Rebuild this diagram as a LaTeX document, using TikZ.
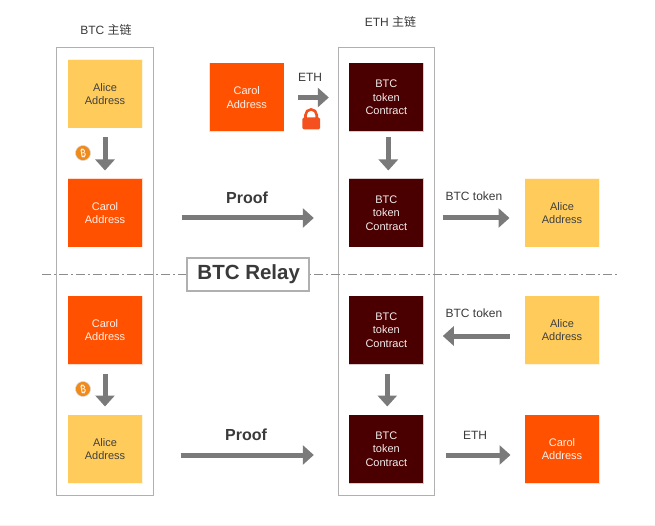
\documentclass[tikz,border=0pt]{standalone}
\usepackage{fontspec}
\setmainfont{Liberation Sans}
\newfontfamily\cjkf{Noto Sans CJK SC}
\newfontfamily\coinf{Noto Sans}
\usetikzlibrary{arrows.meta}
\definecolor{alicec}{HTML}{FFCC5C}
\definecolor{carolc}{HTML}{FF5100}
\definecolor{contractc}{HTML}{4A0000}
\definecolor{arrowc}{HTML}{7A7A7A}
\definecolor{framec}{HTML}{B0B0B0}
\definecolor{inkc}{HTML}{3A3A3A}
\definecolor{coinc}{HTML}{F08A1A}
\definecolor{lockc}{HTML}{F4511E}
\tikzset{
  sq/.style={minimum width=74pt,minimum height=68pt,inner sep=0pt,align=center,font=\fontsize{11}{13.5}\selectfont,draw opacity=.2,line width=1pt},
  alicebox/.style={sq,fill=alicec,draw=alicec,text=black!75},
  carolbox/.style={sq,fill=carolc,draw=carolc,text=white!92!carolc},
  contractbox/.style={sq,fill=contractc,draw=contractc,text=white!92!contractc},
  chain/.style={draw=framec,line width=1pt,fill=none,inner sep=0pt},
  flow/.style={draw=arrowc,line width=5pt,-{Triangle[width=19pt,length=11pt]}},
  lab/.style={text=inkc,font=\fontsize{12}{14}\selectfont,inner sep=0pt},
  biglab/.style={text=inkc,font=\fontsize{16}{18}\selectfont\bfseries,inner sep=0pt},
  coin/.style={circle,fill=coinc,minimum size=15pt,inner sep=0pt,text=white,font=\coinf\fontsize{10}{10}\selectfont\bfseries,draw=black!15,line width=.5pt},
}
\begin{document}
\begin{tikzpicture}[x=1pt,y=-1pt]
\useasboundingbox (0,0) rectangle (655,526);
\fill[black!5] (0,524.5) rectangle (655,526);
% chain frames
\node[chain,minimum width=97pt,minimum height=447pt] (btcchain) at (105,271.5) {};
\node[chain,minimum width=96pt,minimum height=447pt] (ethchain) at (386,271.5) {};
\node[lab] (btctitle) at (106,30) {BTC {\cjkf 主链}};
\node[lab] (ethtitle) at (390.5,22) {ETH {\cjkf 主链}};
% divider
\coordinate (divl) at (42,274.5);
\coordinate (divr) at (618,274.5);
\draw[draw=black!45,line width=.7pt,dash pattern=on 9pt off 3pt on 2pt off 3pt] (divl) -- (divr);
\node[draw=framec,line width=1.2pt,fill=white,minimum width=122pt,minimum height=33pt,inner sep=0pt,text=inkc,font=\fontsize{20.5}{24}\selectfont\bfseries] (relay) at (248,274.5) {\raisebox{-1.5pt}{\hspace{1.5pt}BTC Relay}};
% boxes
\node[alicebox] (a1) at (105,94) {Alice\\Address};
\node[carolbox] (c1) at (105,213) {Carol\\Address};
\node[carolbox] (c2) at (105,330) {Carol\\Address};
\node[alicebox] (a2) at (105,449) {Alice\\Address};
\node[carolbox] (c0) at (246.7,97.5) {Carol\\Address};
\node[contractbox] (t1) at (386.3,97.5) {BTC\\token\\Contract};
\node[contractbox] (t2) at (386.3,213) {BTC\\token\\Contract};
\node[contractbox] (t3) at (386.3,330) {BTC\\token\\Contract};
\node[contractbox] (t4) at (386.3,449) {BTC\\token\\Contract};
\node[alicebox] (a3) at (562,213) {Alice\\Address};
\node[alicebox] (a4) at (562,330) {Alice\\Address};
\node[carolbox] (c3) at (562,449) {Carol\\Address};
% connectors
\draw[flow,shorten <=9pt,shorten >=8pt] (a1.south) -- (c1.north);
\draw[flow,shorten <=9pt,shorten >=8pt] (c2.south) -- (a2.north);
\draw[flow,shorten <=5.5pt,shorten >=8pt] ([xshift=2pt]t1.south) -- ([xshift=2pt]t2.north);
\draw[flow,shorten <=9pt,shorten >=8pt] ([xshift=1pt]t3.south) -- ([xshift=1pt]t4.north);
\draw[flow,shorten <=39pt,shorten >=35pt] ([yshift=-5pt]c1.east) -- ([yshift=-5pt]t2.west);
\draw[flow,shorten <=38pt,shorten >=35pt] ([yshift=-6pt]a2.east) -- ([yshift=-6pt]t4.west);
\draw[flow,shorten <=14pt,shorten >=20pt] (c0.east) -- (t1.west);
\draw[flow,shorten <=19pt,shorten >=15pt] ([yshift=-5pt]t2.east) -- ([yshift=-5pt]a3.west);
\draw[flow,shorten <=15pt,shorten >=19pt] ([yshift=-6pt]a4.west) -- ([yshift=-6pt]t3.east);
\draw[flow,shorten <=22pt,shorten >=14pt] ([yshift=-6pt]t4.east) -- ([yshift=-6pt]c3.west);
% labels
\node[biglab] (p1) at (247,198) {Proof};
\node[biglab] (p2) at (246,434.5) {Proof};
\node[lab] (l1) at (310,77) {ETH};
\node[lab] (l2) at (474,196) {BTC token};
\node[lab] (l3) at (474,313) {BTC token};
\node[lab] (l4) at (475,435) {ETH};
% coins
\node[coin,rotate=10] (k1) at (83,153) {₿};
\node[coin,rotate=10] (k2) at (83,389) {₿};
% lock
\fill[lockc,rounded corners=1.5pt] (302.3,117.5) rectangle (320,129.5);
\draw[lockc,line width=2.6pt] (305.5,118) -- (305.5,115) arc[start angle=180,end angle=0,radius=5.6pt] -- (316.7,118);
\end{tikzpicture}
\end{document}
